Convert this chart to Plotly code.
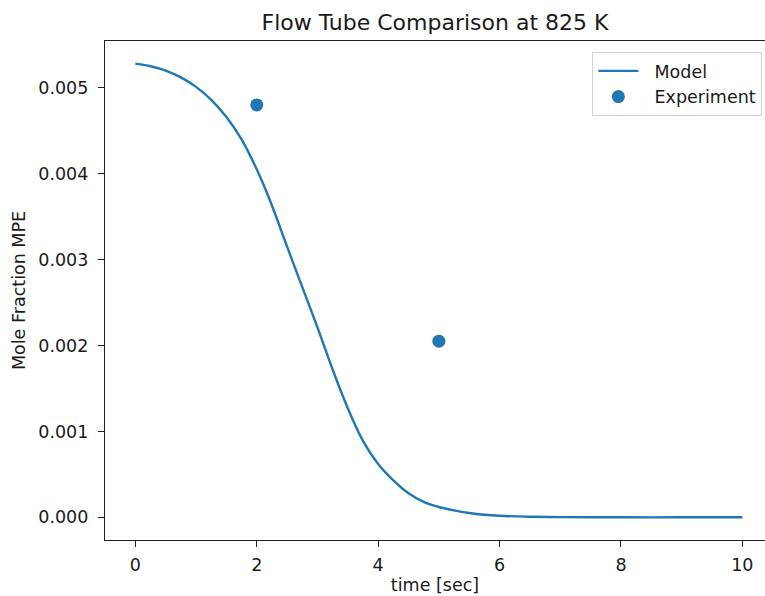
import plotly.graph_objects as go

# Model curve
model_time = [0, 0.25, 0.5, 0.75, 1.0, 1.25, 1.5, 1.75, 2.0, 2.25, 2.5, 2.75, 3.0,
              3.25, 3.5, 3.75, 4.0, 4.25, 4.5, 4.75, 5.0, 5.25, 5.5, 5.75, 6.0,
              6.5, 7.0, 8.0, 9.0, 10.0]
model_mpe = [0.00528, 0.00525, 0.00520, 0.00512, 0.00501, 0.00486, 0.00466, 0.00440,
             0.00405, 0.00363, 0.00315, 0.00268, 0.00221, 0.00172, 0.00127, 0.00089,
             0.00062, 0.00043, 0.00028, 0.00018, 0.00012, 0.00008, 0.00005, 0.00003,
             0.000018, 0.000006, 0.000002, 0.0, 0.0, 0.0]

# Experimental points
exp_time = [2, 5]
exp_mpe = [0.0048, 0.00205]

x_ticks = [0, 2, 4, 6, 8, 10]
y_ticks = [0.000, 0.001, 0.002, 0.003, 0.004, 0.005]

blue = "#1f77b4"
font = "DejaVu Sans"
txt = "#1a1a1a"

fig = go.Figure()
fig.add_trace(go.Scatter(x=model_time, y=model_mpe, mode="lines", name="\u00a0\u00a0Model",
                         line=dict(color=blue, width=2.4, shape="spline", smoothing=0.8)))
fig.add_trace(go.Scatter(x=exp_time, y=exp_mpe, mode="markers", name="\u00a0\u00a0Experiment",
                         marker=dict(color=blue, size=13)))

axis_common = dict(showgrid=False, zeroline=False, showline=True, linecolor="#222",
                   linewidth=1.2, ticks="outside", ticklen=6, tickwidth=1.2, tickcolor="#222",
                   tickfont=dict(family=font, size=17.5, color=txt))

fig.update_layout(
    width=765, height=596,
    margin=dict(l=105, r=0, t=41, b=56),
    paper_bgcolor="white", plot_bgcolor="white",
    font=dict(family=font, size=17.5, color=txt),
    title=dict(text="Flow Tube Comparison at 825 K", x=0.5, xref="paper",
               y=0.963, yref="container", yanchor="middle",
               font=dict(family=font, size=22, color=txt)),
    xaxis=dict(range=[-0.5, 10.373], tickvals=x_ticks, mirror=True,
               title=dict(text="time [sec]", font=dict(family=font, size=17.5, color=txt), standoff=4),
               ticklabelstandoff=3,
               **axis_common),
    yaxis=dict(range=[-0.000264, 0.005544], tickvals=y_ticks, tickformat=".3f",
               title=dict(text="Mole Fraction MPE", font=dict(family=font, size=17.5, color=txt), standoff=8),
               ticklabelstandoff=6,
               **axis_common),
    legend=dict(x=0.996, xanchor="right", y=0.978, yanchor="top",
                bgcolor="rgba(255,255,255,0.8)", bordercolor="#d0d0d0", borderwidth=1,
                itemwidth=40,
                font=dict(family=font, size=17.5, color=txt), tracegroupgap=2),
    showlegend=True,
)

fig.write_html("out.html")
